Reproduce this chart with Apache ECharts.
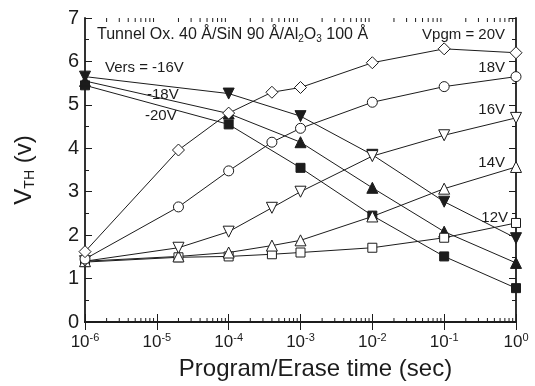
<!DOCTYPE html>
<html>
<head>
<meta charset="utf-8">
<script src="https://cdn.jsdelivr.net/npm/echarts@6/dist/echarts.min.js"></script>
<style>
  html, body { margin: 0; padding: 0; background: #fff; }
  #chart { width: 535px; height: 386px; }
</style>
</head>
<body>
<div id="chart"></div>
<script>
const FONT = '"Liberation Sans", Arial, sans-serif'
const INK = '#1c1c1c'

// times (sec)
const pgmTimes = [1e-6, 2e-5, 1e-4, 4e-4, 1e-3, 1e-2, 1e-1, 1]
const ersTimes = [1e-6, 1e-4, 1e-3, 1e-2, 1e-1, 1]

// program, open markers
const pgm20 = [1.62, 3.96, 4.81, 5.29, 5.40, 5.97, 6.29, 6.20]
const pgm18 = [1.45, 2.65, 3.48, 4.14, 4.46, 5.06, 5.42, 5.65]
const pgm16 = [1.40, 1.71, 2.08, 2.63, 3.00, 3.82, 4.30, 4.70]
const pgm14 = [1.40, 1.51, 1.60, 1.76, 1.88, 2.43, 3.07, 3.57]
const pgm12 = [1.38, 1.49, 1.51, 1.56, 1.60, 1.71, 1.94, 2.28]

// erase, filled markers
const ers16 = [5.65, 5.26, 4.74, 3.85, 2.77, 1.93]
const ers18 = [5.55, 4.80, 4.14, 3.09, 2.08, 1.36]
const ers20 = [5.45, 4.55, 3.55, 2.45, 1.51, 0.78]

const decades = [-6, -5, -4, -3, -2, -1, 0]

function pairs(xs, ys) {
    return xs.map((x, i) => [x, ys[i]])
}

function line(name, xs, ys, symbol, size, filled, rotate) {
    return {
        name,
        type: 'line',
        data: pairs(xs, ys),
        symbol,
        symbolSize: size,
        symbolRotate: rotate || 0,
        showAllSymbol: true,
        lineStyle: { color: INK, width: 1 },
        itemStyle: {
            color: filled ? INK : '#fff',
            borderColor: INK,
            borderWidth: 1,
        },
        z: filled ? 3 : 4,
        animation: false,
    }
}

const chart = echarts.init(document.getElementById('chart'), null, { renderer: 'canvas' })

const supRich = {
    b: { fontSize: 17, fontFamily: FONT, color: INK },
    s: { fontSize: 11, fontFamily: FONT, color: INK, padding: [0, 0, 9, 0] },
}

const tickLabel = (v) => {
    const e = Math.round(Math.log10(v))
    return '{b|10}{s|' + e + '}'
}

const noteStyle = { fontSize: 15, fontFamily: FONT, fill: INK }

function note(x, y, text, align) {
    return {
        type: 'text',
        x, y,
        style: Object.assign({ text, align: align || 'left', verticalAlign: 'middle' }, noteStyle),
        z: 10,
    }
}

const frame = { color: INK, width: 1.8 }

const option = {
    backgroundColor: '#fff',
    animation: false,
    grid: { left: 85, right: 19, top: 18, bottom: 64 },
    xAxis: [
        {
            type: 'log',
            logBase: 10,
            min: 1e-6,
            max: 1,
            splitNumber: 6,
            name: 'Program/Erase time (sec)',
            nameLocation: 'middle',
            nameGap: 35,
            nameTextStyle: { fontSize: 24, fontFamily: FONT, color: INK, padding: [0, 0, 0, 30] },
            axisLine: { lineStyle: frame },
            axisTick: { inside: true, length: 8, lineStyle: { color: INK } },
            axisLabel: { margin: 10, formatter: tickLabel, rich: supRich },
            splitLine: { show: false },
        },
        {
            type: 'log',
            logBase: 10,
            min: 1e-6,
            max: 1,
            splitNumber: 6,
            position: 'top',
            axisLine: { lineStyle: frame },
            axisTick: { inside: true, length: 8, lineStyle: { color: INK } },
            axisLabel: { show: false },
            splitLine: { show: false },
        },
    ],
    yAxis: [
        {
            type: 'value',
            min: 0,
            max: 7,
            interval: 1,
            name: '{a|V}{t|TH}{a| (v)}',
            nameLocation: 'middle',
            nameRotate: 90,
            nameGap: 48,
            nameTextStyle: {
                rich: {
                    a: { fontSize: 24, fontFamily: FONT, color: INK },
                    t: { fontSize: 14, fontFamily: FONT, color: INK, padding: [12, 0, 0, 0] },
                },
            },
            axisLine: { show: true, lineStyle: frame },
            axisTick: { show: true, inside: true, length: 7, lineStyle: { color: INK } },
            minorTick: { show: true, splitNumber: 2, length: 4, lineStyle: { color: INK } },
            axisLabel: { margin: 6, fontSize: 20, fontFamily: FONT, color: INK },
            splitLine: { show: false },
        },
        {
            type: 'value',
            min: 0,
            max: 7,
            interval: 1,
            position: 'right',
            axisLine: { show: true, lineStyle: frame },
            axisTick: { show: true, inside: true, length: 7, lineStyle: { color: INK } },
            minorTick: { show: true, splitNumber: 2, length: 4, lineStyle: { color: INK } },
            axisLabel: { show: false },
            splitLine: { show: false },
        },
    ],
    series: [
        line('-20V', ersTimes, ers20, 'rect', 9, true),
        line('-18V', ersTimes, ers18, 'triangle', 11, true),
        line('-16V', ersTimes, ers16, 'triangle', 11, true, 180),
        line('12V', pgmTimes, pgm12, 'rect', 9, false),
        line('14V', pgmTimes, pgm14, 'triangle', 11, false),
        line('16V', pgmTimes, pgm16, 'triangle', 11, false, 180),
        line('18V', pgmTimes, pgm18, 'circle', 10, false),
        line('20V', pgmTimes, pgm20, 'diamond', 12, false),
        {
            // minor log ticks on bottom and top frame
            type: 'custom',
            silent: true,
            animation: false,
            data: decades.slice(0, -1).map(d => [Math.pow(10, d), 0]),
            renderItem: (params, api) => {
                const base = api.value(0)
                const children = []
                for (let k = 2; k <= 9; k++) {
                    const b = api.coord([base * k, 0])
                    const t = api.coord([base * k, 7])
                    children.push({ type: 'line', shape: { x1: b[0], y1: b[1], x2: b[0], y2: b[1] - 4 }, style: { stroke: INK, lineWidth: 1 } })
                    children.push({ type: 'line', shape: { x1: t[0], y1: t[1], x2: t[0], y2: t[1] + 4 }, style: { stroke: INK, lineWidth: 1 } })
                }
                return { type: 'group', children }
            },
        },
    ],
    graphic: [
        {
            type: 'text',
            x: 97, y: 35,
            style: {
                text: 'Tunnel Ox. 40 Å/SiN 90 Å/Al{s|2}O{s|3} 100 Å',
                verticalAlign: 'middle',
                fontSize: 16, fontFamily: FONT, fill: INK,
                rich: { s: { fontSize: 10, fontFamily: FONT, fill: INK, padding: [8, 0, 0, 0] } },
            },
            z: 10,
        },
        note(505, 35, 'Vpgm = 20V', 'right'),
        note(505, 68, '18V', 'right'),
        note(505, 110, '16V', 'right'),
        note(505, 163, '14V', 'right'),
        note(508, 218, '12V', 'right'),
        note(105, 68, 'Vers = -16V'),
        note(147, 95, '-18V'),
        note(145, 116, '-20V'),
    ],
}

chart.setOption(option)
</script>
</body>
</html>
